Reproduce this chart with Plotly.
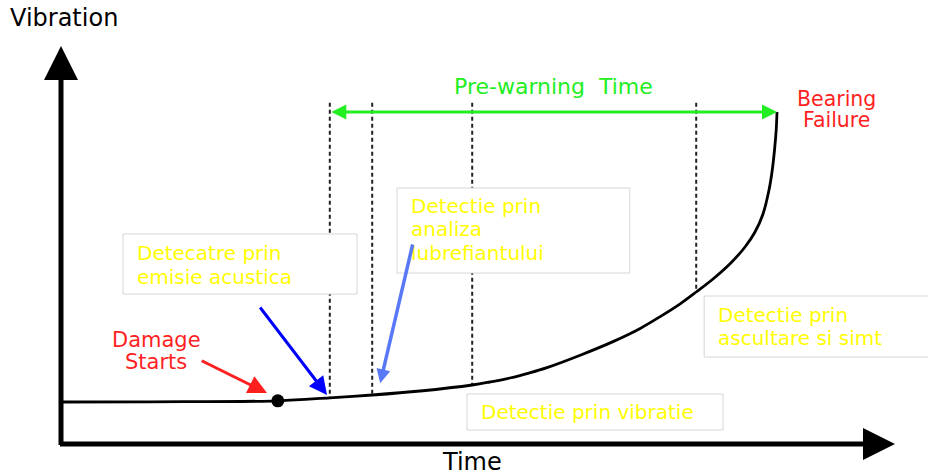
import numpy as np
import plotly.graph_objects as go

# ---- data (time / vibration in arbitrary units) ----
time = [0, 11.1, 27.1, 33.6, 38.9, 44.9, 51.4, 53.6, 56.1, 58.6, 60.75, 64.9, 69, 72.4, 75.1,
        77.4, 79.4, 81.5, 83.6, 85.5, 86.75, 87.75, 88.5, 88.875, 89.19, 89.4, 89.5]
vibration = [10.5, 10.55, 10.8, 11.55, 12.25, 13.25, 14.75, 15.5, 16.5, 17.8, 19.1, 22.2, 25.6, 28.9, 32.1,
             35.05, 38, 41.25, 45, 49.25, 53, 57.5, 63.5, 68, 73.5, 78.5, 83]

damage_start_time = 27.1
detection_times = [33.6, 38.9, 51.4, 79.4]
detection_top = 85.3
prewarning_start = 33.6
failure_time = 89.5
failure_vib = 83

axis_labels = ["Vibration", "Time"]
prewarning_label = "Pre-warning \u00a0Time"
failure_label = ["Bearing", "Failure"]
damage_label = ["Damage", "Starts"]
box_texts = [
    ["Detecatre prin", "emisie acustica"],
    ["Detectie prin", "analiza", "lubrefiantului"],
    ["Detectie prin vibratie"],
    ["Detectie prin", "ascultare si simt"],
]

FONT = "DejaVu Sans"
YELLOW = "#ffff00"
RED = "#ff1f1f"
GREEN = "#22ee22"

fig = go.Figure()

# dashed detection lines (from top down to the curve)
det_end = np.interp(detection_times, time, vibration)
for t, vend in zip(detection_times, det_end):
    fig.add_trace(go.Scatter(x=[t, t], y=[detection_top, vend], mode="lines",
                             line=dict(color="#222222", width=2, dash="4px,3px"),
                             hoverinfo="skip"))

# degradation curve
fig.add_trace(go.Scatter(x=time, y=vibration, mode="lines",
                         line=dict(color="black", width=2.8, shape="spline", smoothing=1.0),
                         hoverinfo="skip"))

# damage start point
fig.add_trace(go.Scatter(x=[damage_start_time], y=[float(np.interp(damage_start_time, time, vibration))],
                         mode="markers", marker=dict(color="black", size=13), hoverinfo="skip"))

# text boxes (above traces, they hide the dashed lines)
boxes = [
    (7.75, 37.0, 37.5, 52.5),
    (42.0, 71.1, 42.75, 64.0),
    (50.75, 82.75, 3.5, 12.5),
    (80.4, 120.0, 21.75, 37.0),
]
for x0, x1, y0, y1 in boxes:
    fig.add_shape(type="rect", xref="x", yref="y", x0=x0, x1=x1, y0=y0, y1=y1,
                  line=dict(color="#d6d6d6", width=1), fillcolor="white", layer="above")

ann = []

def txt(x, y, s, color, size, xanchor="left"):
    ann.append(dict(x=x, y=y, xref="x", yref="y", text=s, showarrow=False,
                    xanchor=xanchor, yanchor="middle",
                    font=dict(family=FONT, size=size, color=color)))

# box texts
box_pos = [(9.25, [47.75, 41.75]), (43.5, [59.5, 53.75, 47.75]), (52.25, [8.0]), (81.9, [32.25, 26.5])]
for (bx, ys), lines in zip(box_pos, box_texts):
    for yy, s in zip(ys, lines):
        txt(bx, yy, s, YELLOW, 20)

# labels
txt(-6.6, 106.5, axis_labels[0], "black", 24)
txt(51.4, -4.5, axis_labels[1], "black", 24, "center")
txt(61.6, 89.5, prewarning_label, GREEN, 22, "center")
for yy, s in zip([86.25, 81.0], failure_label):
    txt(96.9, yy, s, RED, 20.5, "center")
for yy, s in zip([26.0, 20.5], damage_label):
    txt(11.9, yy, s, RED, 21, "center")

def arrow(x, y, ax, ay, color, width, size, head=2, both=False):
    d = dict(x=x, y=y, ax=ax, ay=ay, xref="x", yref="y", axref="x", ayref="y",
             text="", showarrow=True, arrowhead=head, arrowsize=size, arrowwidth=width,
             arrowcolor=color, standoff=0)
    if both:
        d.update(arrowside="end+start", startarrowhead=head, startarrowsize=size, startstandoff=0)
    ann.append(d)

# axes
arrow(0, 99.5, 0, -0.625, "black", 5, 1.36)
arrow(104.25, 0, -0.3125, 0, "black", 5, 1.28)

# pre-warning double arrow
arrow(failure_time, failure_vib, prewarning_start, failure_vib, GREEN, 3, 1.0, both=True)

# pointer arrows
arrow(25.75, 12.75, 17.4, 21.0, RED, 3, 1.25)
arrow(33.25, 12.25, 24.75, 34.5, "#0000ff", 3, 1.2)
arrow(39.9, 15.2, 44.0, 50.25, "#5878f8", 3.5, 0.8)

fig.update_layout(
    width=928, height=475,
    margin=dict(l=0, r=0, t=0, b=0),
    paper_bgcolor="white", plot_bgcolor="white",
    showlegend=False,
    xaxis=dict(range=[-7.625, 108.375], visible=False, fixedrange=True),
    yaxis=dict(range=[-7.75, 111], visible=False, fixedrange=True),
    annotations=ann,
)

fig.write_html("out.html", config={"displayModeBar": False},
               post_script="document.body.style.margin='0';document.body.style.overflow='hidden';")
